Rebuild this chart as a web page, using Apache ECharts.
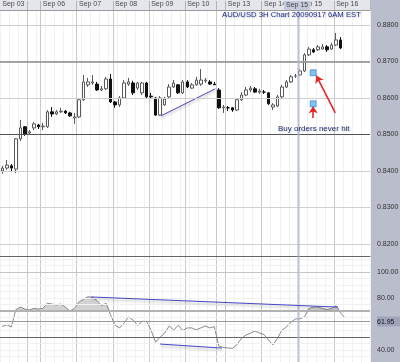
<!DOCTYPE html>
<html><head><meta charset="utf-8">
<script src="https://cdn.jsdelivr.net/npm/echarts@6/dist/echarts.min.js"></script>
<style>html,body{margin:0;padding:0;background:#fff}#c{width:400px;height:362px}</style>
</head><body><div id="c"></div>
<script>
const SLOTS = 82;
const dayNames = ['Sep 03','Sep 06','Sep 07','Sep 08','Sep 09','Sep 10','Sep 13','Sep 14','Sep 15','Sep 16'];
const dayStarts = [0,9,17,25,33,41,50,58,66,74];
const sessionBreaks = [6,48];
const priceTicks = [0.8200,0.8300,0.8400,0.8500,0.8600,0.8700,0.8800];
const rsiTicks = [40,61.95,80,100];
// [open, close, low, high]
const candles = [
[0.8400,0.8408,0.8392,0.8414],[0.8408,0.8416,0.8403,0.8430],[0.8414,0.8408,0.8397,0.8419],[0.8405,0.8488,0.8394,0.8490],
[0.8488,0.8518,0.8482,0.8540],[0.8521,0.8501,0.8496,0.8523],[0.8504,0.8507,0.8501,0.8512],[0.8518,0.8529,0.8512,0.8534],
[0.8526,0.8521,0.8515,0.8529],[0.8521,0.8523,0.8512,0.8532],[0.8521,0.8562,0.8518,0.8567],[0.8562,0.8556,0.8548,0.8575],
[0.8556,0.8562,0.8553,0.8567],[0.8562,0.8564,0.8559,0.8573],[0.8564,0.8559,0.8556,0.8567],[0.8559,0.8551,0.8548,0.8562],
[0.8545,0.8548,0.8529,0.8559],[0.8548,0.8595,0.8545,0.8600],[0.8595,0.8644,0.8592,0.8663],[0.8636,0.8644,0.8630,0.8655],
[0.8641,0.8644,0.8636,0.8663],[0.8638,0.8622,0.8619,0.8644],[0.8622,0.8625,0.8619,0.8633],[0.8625,0.8652,0.8622,0.8658],
[0.8652,0.8589,0.8586,0.8666],[0.8589,0.8581,0.8573,0.8592],[0.8581,0.8600,0.8575,0.8605],[0.8600,0.8641,0.8597,0.8649],
[0.8638,0.8644,0.8633,0.8655],[0.8641,0.8614,0.8608,0.8647],[0.8627,0.8641,0.8622,0.8644],[0.8614,0.8641,0.8608,0.8644],
[0.8641,0.8603,0.8600,0.8644],[0.8605,0.8603,0.8597,0.8614],[0.8600,0.8553,0.8551,0.8603],[0.8553,0.8600,0.8551,0.8605],
[0.8581,0.8597,0.8578,0.8603],[0.8603,0.8630,0.8600,0.8638],[0.8630,0.8641,0.8627,0.8649],[0.8636,0.8614,0.8611,0.8638],
[0.8614,0.8644,0.8611,0.8649],[0.8644,0.8630,0.8627,0.8649],[0.8627,0.8636,0.8625,0.8641],[0.8636,0.8649,0.8633,0.8658],
[0.8638,0.8649,0.8633,0.8679],[0.8647,0.8649,0.8641,0.8655],[0.8644,0.8638,0.8636,0.8649],[0.8638,0.8636,0.8636,0.8644],
[0.8622,0.8573,0.8570,0.8627],[0.8573,0.8575,0.8559,0.8581],[0.8573,0.8573,0.8564,0.8578],[0.8573,0.8567,0.8562,0.8575],
[0.8567,0.8595,0.8564,0.8600],[0.8595,0.8608,0.8592,0.8616],[0.8608,0.8622,0.8605,0.8630],[0.8622,0.8627,0.8616,0.8633],
[0.8625,0.8616,0.8614,0.8630],[0.8616,0.8619,0.8611,0.8625],[0.8616,0.8616,0.8611,0.8622],[0.8614,0.8584,0.8581,0.8616],
[0.8575,0.8581,0.8567,0.8586],[0.8578,0.8603,0.8575,0.8608],[0.8603,0.8630,0.8600,0.8636],[0.8630,0.8644,0.8627,0.8649],
[0.8644,0.8658,0.8641,0.8663],[0.8660,0.8660,0.8655,0.8666],[0.8663,0.8674,0.8660,0.8679],[0.8674,0.8718,0.8671,0.8723],
[0.8718,0.8734,0.8715,0.8740],[0.8732,0.8726,0.8723,0.8737],[0.8732,0.8740,0.8729,0.8745],[0.8734,0.8740,0.8732,0.8748],
[0.8740,0.8732,0.8726,0.8745],[0.8734,0.8745,0.8732,0.8751],[0.8745,0.8759,0.8742,0.8778],[0.8759,0.8737,0.8734,0.8767]
];
const rsi = [58,59.5,57.7,71,73,71.5,70.8,72,71.5,72,
76,75.4,74.6,75.4,73,70,72,77,79,81,
80.5,78,74,76,67,59,57,61,65.5,63,
59,62,62,55,46,50,53,58.5,55.4,59,
55,57,57,55.5,57,58.5,57,58,43,42,
41.6,41.3,44,49,51.5,53,54.6,53,52,47.7,
44,49,55.4,57.7,61.5,64,64,65.5,72,73,
73,72,71,72,74,68.5,64.6];
const supportLevels = [0.8674, 0.8542];
const rsiLevels = [100, 70, 61.95, 50];
const rsiOverbought = 70;
const priceTrend = [[35.2,0.8551],[47.2,0.8625]];
const buyOrders = [[68.9,0.8669],[68.9,0.8584]];
const arrows = [[[73.8,0.8559],[69.6,0.8661]],[[68.9,0.8545],[68.9,0.8577]]];
const rsiTrendHigh = [[19.7,80.8],[74.4,73]];
const rsiTrendLow = [[35,44.6],[48.7,41.5]];
const crosshairSlot = 65.5;

const FONT = '"Liberation Sans", Arial, sans-serif';
const gridLines = dayStarts.filter(i => i > 0).concat(sessionBreaks);
const cats = Array.from({length: SLOTS}, (_, i) => 's' + i);
const fineX = (i) => i % 2 === 0 && !gridLines.includes(i);
const fineP = []; for (let v = 0.8175; v < 0.884; v += 0.0025) { if (Math.abs(Math.round(v*100) - v*100) > 0.01) fineP.push(+v.toFixed(4)); }
const fineR = []; for (let v = 35; v <= 110; v += 5) fineR.push(v);

const chart = echarts.init(document.getElementById('c'), null, {renderer: 'canvas'});
const catAxis = (grid, top, main) => ({
  type: 'category', gridIndex: grid, data: cats, boundaryGap: true, position: top ? 'top' : 'bottom',
  axisLine: {show: main, lineStyle: {color: grid === 0 ? '#9a9a9a' : '#666', width: 1}},
  axisTick: {show: main && grid === 0, interval: (i) => gridLines.includes(i), length: 9, lineStyle: {color: '#b4b4b4'}},
  axisLabel: {show: main && grid === 0, interval: (i) => dayStarts.includes(i), formatter: (v, i) => dayNames[dayStarts.indexOf(i)] || '',
    align: 'left', margin: 2, fontSize: 7, color: '#4a4a4a', fontFamily: FONT},
  splitLine: {show: true, interval: main ? (i) => gridLines.includes(i) : fineX, lineStyle: {color: main ? '#c9c9c9' : '#f1f1f1', width: 1}}
});
const valAxis = (grid) => ({type: 'value', gridIndex: grid, min: -0.5, max: SLOTS - 0.5, show: false});
const levelLine = (v, color, width) => ({yAxis: v, lineStyle: {color, width, type: 'solid'}});

chart.setOption({
  animation: false,
  backgroundColor: '#ffffff',
  grid: [
    {left: 0, right: 30, top: 10, height: 246, outerBoundsMode: 'none', containLabel: false},
    {left: 0, right: 30, top: 256, bottom: 0, outerBoundsMode: 'none', containLabel: false}
  ],
  xAxis: [catAxis(0, true, true), catAxis(1, true, true), catAxis(0, false, false), catAxis(1, false, false), valAxis(0), valAxis(1)],
  yAxis: [
    {type: 'value', gridIndex: 0, position: 'right', min: 0.8167, max: 0.8841, scale: true,
     axisLine: {show: false}, axisTick: {show: false}, splitLine: {show: false},
     axisLabel: {customValues: priceTicks, formatter: v => v.toFixed(4), fontSize: 7, color: '#333', margin: 7, fontFamily: FONT}},
    {type: 'value', gridIndex: 1, position: 'right', min: 30.8, max: 112.3,
     axisLine: {show: false}, axisTick: {show: false}, splitLine: {show: false},
     axisLabel: {customValues: rsiTicks, formatter: v => Math.abs(v - 61.95) < 0.001 ? '{hl|' + v.toFixed(2) + '}' : v.toFixed(2),
       fontSize: 7, color: '#333', margin: 7, fontFamily: FONT,
       rich: {hl: {backgroundColor: '#9fa4bb', color: '#111', fontSize: 7, fontFamily: FONT, padding: [2, 8, 1, 0]}}}}
  ],
  graphic: [
    {type: 'rect', z: -1, shape: {x: 370, y: 0, width: 30, height: 362}, style: {fill: '#b9bdcc'}},
    {type: 'rect', z: -1, shape: {x: 0, y: 0, width: 370, height: 10}, style: {fill: '#e5e6eb'}},
    {type: 'text', z: 50, x: 284, y: 1, style: {text: 'Sep 15', fontSize: 7, fontFamily: FONT, fill: '#444', backgroundColor: '#c4cadc', padding: [1, 2, 1, 2]}},
    {type: 'text', z: 50, x: 222, y: 10.5, style: {text: 'AUD/USD 3H Chart 20090917 6AM EST', fontSize: 7.7, fontFamily: FONT, fill: '#1d2c8e',
      textShadowColor: 'rgba(0,0,0,0.25)', textShadowBlur: 2, textShadowOffsetX: 1, textShadowOffsetY: 1}},
    {type: 'text', z: 50, x: 278, y: 125, style: {text: 'Buy orders never hit', fontSize: 8, fontFamily: FONT, fill: '#1d2c6c',
      textShadowColor: 'rgba(0,0,0,0.2)', textShadowBlur: 2, textShadowOffsetX: 1, textShadowOffsetY: 1}}
  ],
  series: [
    {type: 'line', xAxisIndex: 4, yAxisIndex: 0, data: [], z: 1, silent: true,
     markLine: {silent: true, symbol: 'none', label: {show: false}, animation: false,
       data: fineP.map(v => levelLine(v, '#f1f1f1', 1))
         .concat(priceTicks.map(v => levelLine(v, '#cfcfcf', 1)))
         .concat([levelLine(supportLevels[0], '#8e8e8e', 1.5), levelLine(supportLevels[1], '#555', 1.2)])}},
    {type: 'line', xAxisIndex: 5, yAxisIndex: 1, data: [], z: 1, silent: true,
     markLine: {silent: true, symbol: 'none', label: {show: false}, animation: false,
       data: fineR.map(v => levelLine(v, '#f1f1f1', 1))
         .concat([levelLine(rsiLevels[0], '#c6c6c6', 1), levelLine(rsiLevels[1], '#b2b2b2', 2),
                  levelLine(rsiLevels[2], '#9a9a9a', 1), levelLine(rsiLevels[3], '#666', 1)])}},
    {type: 'line', xAxisIndex: 4, yAxisIndex: 0, data: [], z: 1, silent: true,
     markLine: {silent: true, symbol: 'none', label: {show: false}, data: [{xAxis: crosshairSlot, lineStyle: {color: 'rgba(175,190,215,0.5)', width: 3, type: 'solid'}}]}},
    {type: 'line', xAxisIndex: 5, yAxisIndex: 1, data: [], z: 1, silent: true,
     markLine: {silent: true, symbol: 'none', label: {show: false}, data: [{xAxis: crosshairSlot, lineStyle: {color: 'rgba(175,190,215,0.5)', width: 3, type: 'solid'}}]}},
    {type: 'candlestick', xAxisIndex: 0, yAxisIndex: 0, data: candles, barWidth: 3, z: 3, silent: true,
     itemStyle: {color: '#ffffff', color0: '#111111', borderColor: '#5a5a5a', borderColor0: '#111111', borderWidth: 1}},
    {type: 'line', xAxisIndex: 4, yAxisIndex: 0, data: priceTrend, symbol: 'none', z: 4, silent: true,
     lineStyle: {color: '#4646c8', width: 1, shadowColor: 'rgba(0,0,0,0.35)', shadowBlur: 3, shadowOffsetY: 2}},
    {type: 'scatter', xAxisIndex: 4, yAxisIndex: 0, data: buyOrders, symbol: 'rect', symbolSize: 6, z: 5, silent: true,
     itemStyle: {color: '#5fb2ee', borderColor: '#3a7fc0', borderWidth: 0.8}},
    {type: 'line', xAxisIndex: 4, yAxisIndex: 0, data: [], z: 6, silent: true,
     markLine: {silent: true, symbol: ['none', 'arrow'], symbolSize: 7, label: {show: false},
       lineStyle: {color: '#e02828', width: 1.6, type: 'solid'},
       data: arrows.map(a => [{coord: a[0]}, {coord: a[1]}])}},
    {type: 'line', xAxisIndex: 1, yAxisIndex: 1, stack: 'ob', data: rsi.map(() => rsiOverbought), symbol: 'none', lineStyle: {width: 0}, silent: true, z: 2},
    {type: 'line', xAxisIndex: 1, yAxisIndex: 1, stack: 'ob', data: rsi.map(v => Math.max(v - rsiOverbought, 0)), symbol: 'none',
     lineStyle: {width: 0}, areaStyle: {color: '#d2d2d2', opacity: 1}, silent: true, z: 2},
    {type: 'line', xAxisIndex: 1, yAxisIndex: 1, data: rsi, symbol: 'none', z: 4, silent: true, lineStyle: {color: '#8a8a8a', width: 1}},
    {type: 'line', xAxisIndex: 5, yAxisIndex: 1, data: rsiTrendHigh, symbol: 'none', z: 5, silent: true,
     lineStyle: {color: '#4646c8', width: 1, shadowColor: 'rgba(0,0,0,0.3)', shadowBlur: 3, shadowOffsetY: 2}},
    {type: 'line', xAxisIndex: 5, yAxisIndex: 1, data: rsiTrendLow, symbol: 'none', z: 5, silent: true,
     lineStyle: {color: '#4646c8', width: 1, shadowColor: 'rgba(0,0,0,0.3)', shadowBlur: 3, shadowOffsetY: 2}}
  ]
});
</script></body></html>
